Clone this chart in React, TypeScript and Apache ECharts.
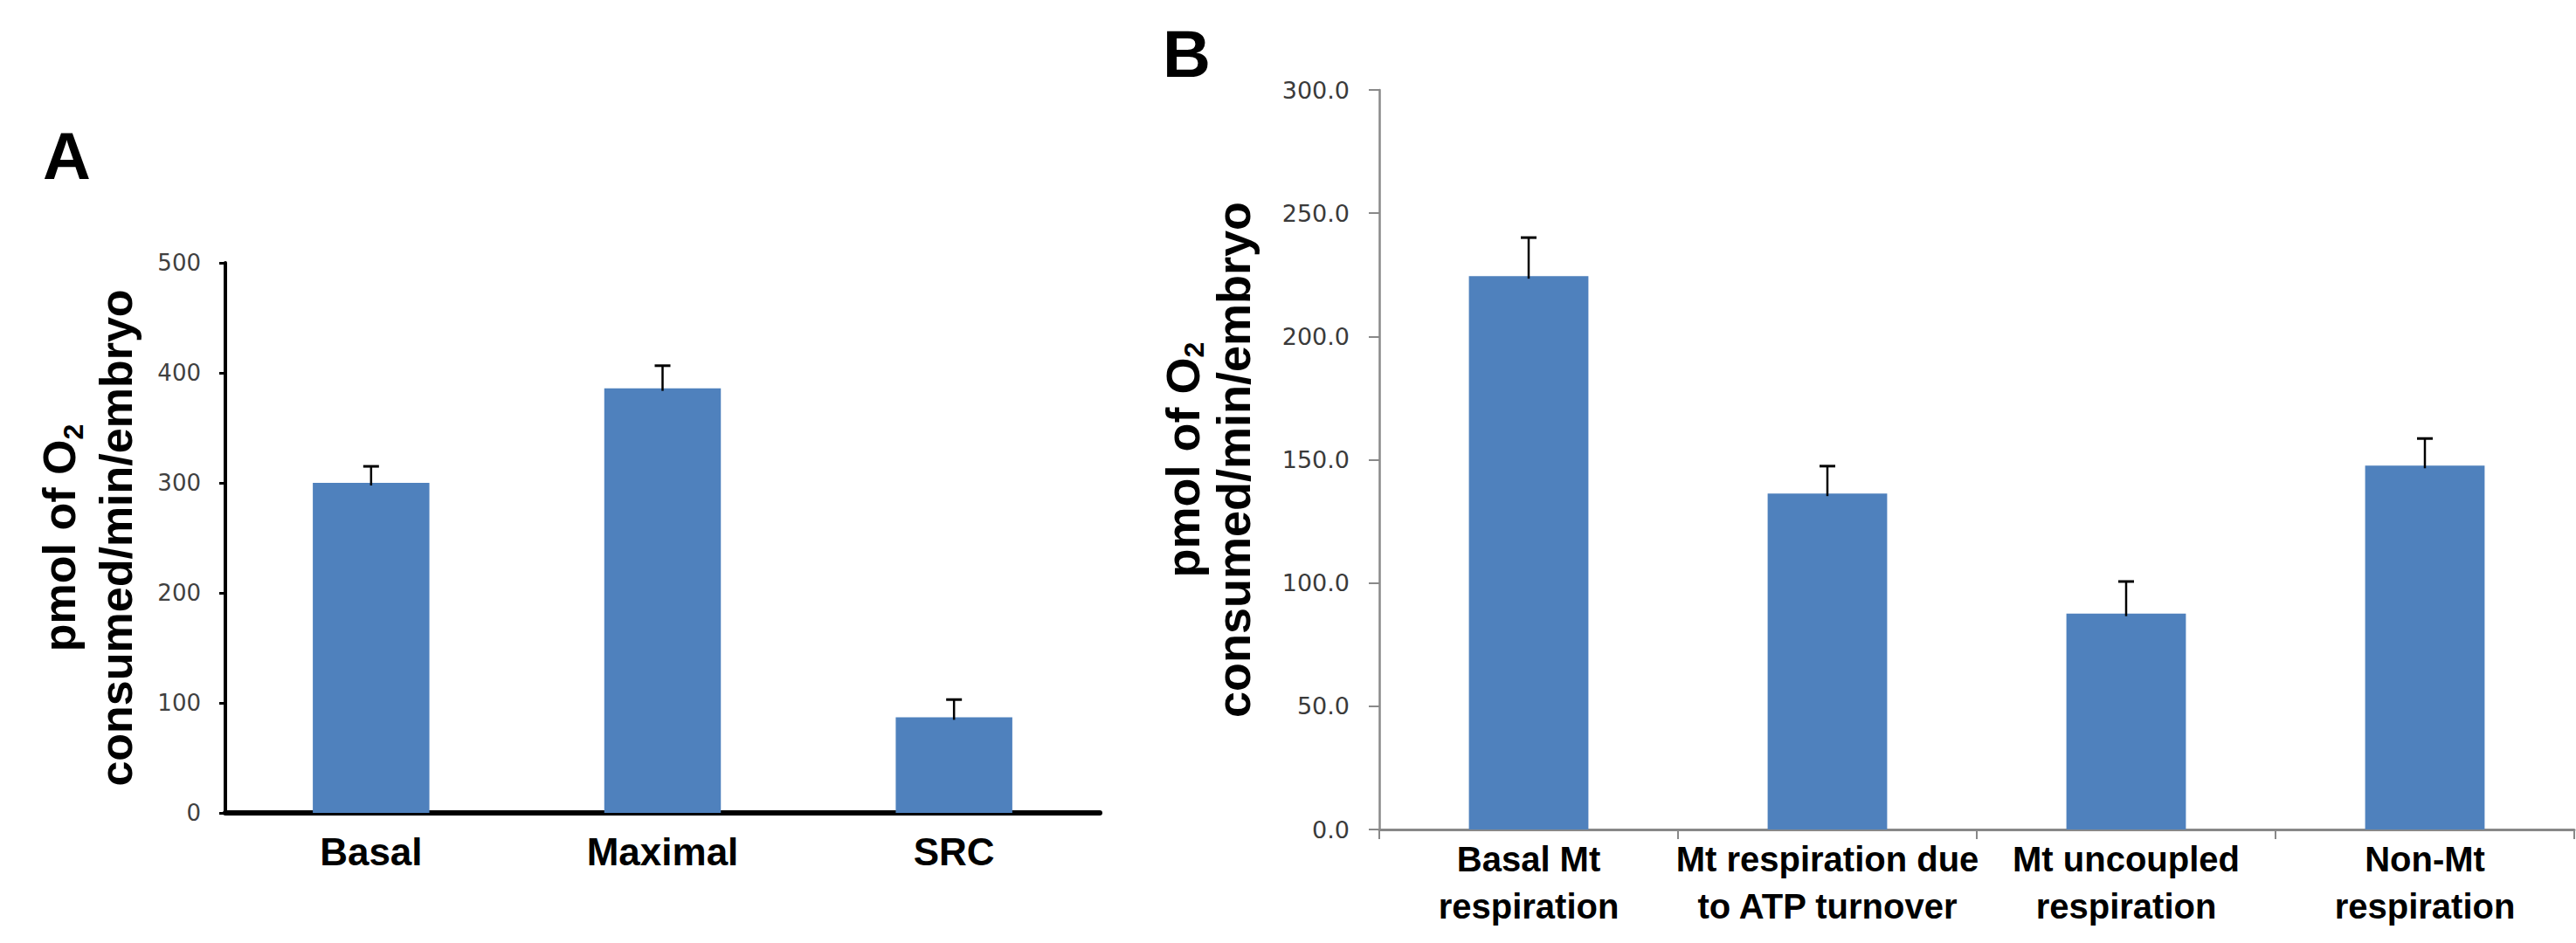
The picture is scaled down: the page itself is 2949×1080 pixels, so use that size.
import React, { useEffect, useRef } from "react";
import * as echarts from "echarts";

// Panel A data
const catsA = ["Basal", "Maximal", "SRC"];
const valsA = [300, 386, 87];
const errA = [15, 20.5, 16];
const ticksA = { min: 0, max: 500, interval: 100 };

// Panel B data
const catsB = [
  "Basal Mt\nrespiration",
  "Mt respiration due\nto ATP turnover",
  "Mt uncoupled\nrespiration",
  "Non-Mt\nrespiration",
];
const valsB = [224.5, 136.3, 87.6, 147.6];
const errB = [15.6, 11.1, 13, 11];
const ticksB = { min: 0, max: 300, interval: 50 };

const BAR = "#4F81BD";
const TITLE_FONT = "'Liberation Sans', Arial, sans-serif";
const TICK_FONT = "'DejaVu Sans', sans-serif";

function errSeries(vals: number[], errs: number[], axisIndex: number) {
  return {
    type: "custom",
    xAxisIndex: axisIndex,
    yAxisIndex: axisIndex,
    z: 5,
    data: vals.map((v, i) => [i, v, errs[i]]),
    encode: { x: 0, y: 1 },
    renderItem: (_p: any, api: any) => {
      const x = api.value(0);
      const v = api.value(1);
      const e = api.value(2);
      const p0 = api.coord([x, v]);
      const p1 = api.coord([x, v + e]);
      return {
        type: "group",
        children: [
          {
            type: "line",
            shape: { x1: p0[0], y1: p0[1] + 3, x2: p1[0], y2: p1[1] },
            style: { stroke: "#000", lineWidth: 2.5 },
          },
          {
            type: "line",
            shape: { x1: p1[0] - 9, y1: p1[1], x2: p1[0] + 9, y2: p1[1] },
            style: { stroke: "#000", lineWidth: 3 },
          },
        ],
      };
    },
  };
}

function titleRich(fontSize: number, lineHeight: number) {
  const base = {
    fontFamily: TITLE_FONT,
    fontWeight: "bold",
    color: "#000",
    align: "center",
  };
  return {
    fontFamily: TITLE_FONT,
    fontWeight: "bold",
    fontSize,
    lineHeight,
    color: "#000",
    rich: {
      a: { ...base, fontSize, lineHeight },
      s: { ...base, fontSize: 32, lineHeight: 30, verticalAlign: "bottom" },
    },
  };
}

const TITLE_TEXT = "{a|pmol of O}{s|2}\n{a|consumed/min/embryo}";

export default function App() {
  const ref = useRef<HTMLDivElement>(null);
  useEffect(() => {
    if (!ref.current) return;
    const chart = echarts.init(ref.current, null, {
      renderer: "svg",
      width: 2949,
      height: 1080,
    });
    chart.setOption({
      animation: false,
      backgroundColor: "#fff",
      grid: [
        { left: 258, top: 301, width: 1001, height: 630, containLabel: false },
        { left: 1579, top: 103, width: 1368, height: 847, containLabel: false },
      ],
      graphic: [
        {
          type: "text",
          left: 49,
          top: 140,
          style: {
            text: "A",
            fill: "#000",
            font: `bold 76px ${TITLE_FONT}`,
          },
        },
        {
          type: "text",
          left: 1331,
          top: 23,
          style: {
            text: "B",
            fill: "#000",
            font: `bold 76px ${TITLE_FONT}`,
          },
        },
      ],
      xAxis: [
        {
          type: "category",
          gridIndex: 0,
          data: catsA,
          axisLine: { lineStyle: { color: "#000", width: 6 } },
          axisTick: { show: false },
          axisLabel: {
            interval: 0,
            margin: 19,
            color: "#000",
            fontFamily: TITLE_FONT,
            fontWeight: "bold",
            fontSize: 44,
            lineHeight: 50,
          },
          splitLine: { show: false },
        },
        {
          type: "category",
          gridIndex: 1,
          data: catsB,
          axisLine: { lineStyle: { color: "#888", width: 3 } },
          axisTick: {
            show: true,
            alignWithLabel: false,
            length: 11,
            lineStyle: { color: "#888", width: 2 },
          },
          axisLabel: {
            interval: 0,
            margin: 7,
            color: "#000",
            fontFamily: TITLE_FONT,
            fontWeight: "bold",
            fontSize: 40,
            lineHeight: 54,
          },
          splitLine: { show: false },
        },
      ],
      yAxis: [
        {
          type: "value",
          gridIndex: 0,
          min: ticksA.min,
          max: ticksA.max,
          interval: ticksA.interval,
          name: TITLE_TEXT,
          nameLocation: "middle",
          nameRotate: 90,
          nameGap: 93,
          nameTextStyle: titleRich(52, 65),
          axisLine: { show: true, lineStyle: { color: "#000", width: 4 } },
          axisTick: { show: true, length: 7, lineStyle: { color: "#000", width: 3 } },
          axisLabel: {
            margin: 28,
            color: "#404040",
            fontFamily: TICK_FONT,
            fontSize: 26,
          },
          splitLine: { show: false },
        },
        {
          type: "value",
          gridIndex: 1,
          min: ticksB.min,
          max: ticksB.max,
          interval: ticksB.interval,
          name: TITLE_TEXT,
          nameLocation: "middle",
          nameRotate: 90,
          nameGap: 138,
          nameTextStyle: titleRich(54, 58),
          axisLine: { show: true, lineStyle: { color: "#898989", width: 2.5 } },
          axisTick: { show: true, length: 12, lineStyle: { color: "#898989", width: 2 } },
          axisLabel: {
            margin: 34,
            color: "#3a3a3a",
            fontFamily: TICK_FONT,
            fontSize: 27,
            formatter: (v: number) => v.toFixed(1),
          },
          splitLine: { show: false },
        },
      ],
      series: [
        {
          type: "bar",
          xAxisIndex: 0,
          yAxisIndex: 0,
          data: valsA,
          barWidth: "40%",
          itemStyle: { color: BAR },
        },
        errSeries(valsA, errA, 0),
        {
          type: "bar",
          xAxisIndex: 1,
          yAxisIndex: 1,
          data: valsB,
          barWidth: "40%",
          itemStyle: { color: BAR },
        },
        errSeries(valsB, errB, 1),
      ],
    });
    return () => chart.dispose();
  }, []);
  return (
    <div
      ref={ref}
      style={{
        position: "absolute",
        left: 0,
        top: 0,
        width: 2949,
        height: 1080,
        background: "#fff",
      }}
    />
  );
}
